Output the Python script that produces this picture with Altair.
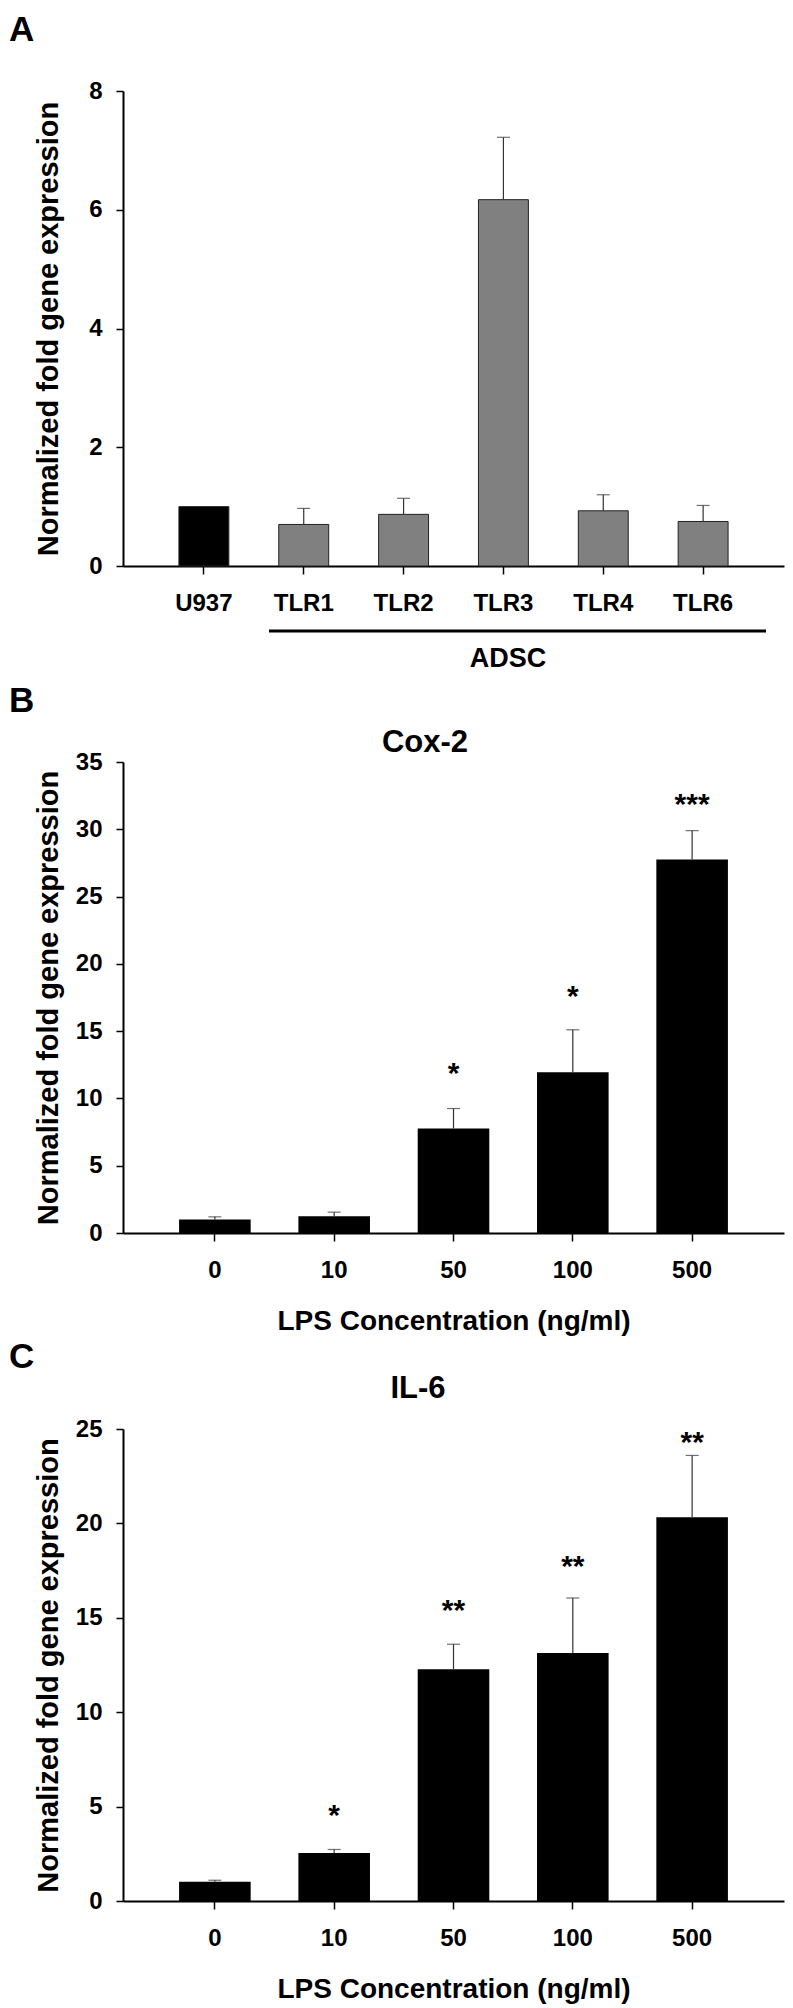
import altair as alt
import pandas as pd

FONT = "Liberation Sans"

# ---------------- data ----------------
a_cats = ["U937", "TLR1", "TLR2", "TLR3", "TLR4", "TLR6"]
a_groups = ["U937", "ADSC", "ADSC", "ADSC", "ADSC", "ADSC"]
a_vals = [1.00, 0.70, 0.87, 6.17, 0.93, 0.75]
a_err_top = [None, 0.97, 1.14, 7.22, 1.20, 1.02]

b_cats = ["0", "10", "50", "100", "500"]
b_vals = [1.00, 1.25, 7.77, 11.95, 27.75]
b_err_top = [1.20, 1.55, 9.25, 15.10, 29.90]
b_stars = ["", "", "*", "*", "***"]
b_star_y = [None, None, 12.4, 18.1, 32.4]

c_cats = ["0", "10", "50", "100", "500"]
c_vals = [1.02, 2.54, 12.27, 13.13, 20.33]
c_err_top = [1.10, 2.73, 13.60, 16.05, 23.60]
c_stars = ["", "*", "**", "**", "**"]
c_star_y = [None, 4.9, 15.8, 18.1, 24.7]

y_title = "Normalized fold gene expression"
x_title_lps = "LPS Concentration (ng/ml)"

W = 661
TICK_FS = 24
YTITLE_FS = 29
XTITLE_FS = 28


def y_axis(values):
    return alt.Axis(values=values, grid=False, tickSize=7, tickWidth=1.5,
                    tickColor="black", domainColor="black", domainWidth=2,
                    labelFont=FONT, labelFontSize=TICK_FS, labelFontWeight="bold",
                    labelColor="black", labelPadding=14,
                    title=y_title, titleFont=FONT, titleFontSize=YTITLE_FS,
                    titleFontWeight="bold", titleColor="black", titleX=-60)


def x_axis(title):
    kw = dict(labelAngle=0, grid=False, tickSize=8, tickWidth=1.5,
              tickColor="black", domainColor="black", domainWidth=2,
              labelFont=FONT, labelFontSize=TICK_FS, labelFontWeight="bold",
              labelColor="black", labelPadding=17)
    if title:
        kw.update(title=title, titleFont=FONT, titleFontSize=XTITLE_FS,
                  titleFontWeight="bold", titleColor="black", titleY=96,
                  titleBaseline="alphabetic")
    else:
        kw.update(title=None)
    return alt.Axis(**kw)


def label_layer(text, x, y, size, align="left"):
    return alt.Chart(pd.DataFrame({"t": [text]})).mark_text(
        font=FONT, fontSize=size, fontWeight="bold", color="black",
        align=align, baseline="alphabetic"
    ).encode(text="t:N", x=alt.value(x), y=alt.value(y))


def panel(cats, vals, errs, ymax, yticks, pin, pout, height, xtitle,
          groups=None, stars=None, star_y=None, letter="", letter_y=-50,
          title=None, title_x=0, title_y=0):
    df = pd.DataFrame({"cat": cats, "val": vals, "err": errs,
                       "grp": groups if groups else ["all"] * len(cats)})
    xs = alt.Scale(paddingInner=pin, paddingOuter=pout)
    ys = alt.Scale(domain=[0, ymax], nice=False)
    X = lambda: alt.X("cat:N", sort=cats, scale=xs, axis=x_axis(xtitle))
    Y = lambda f: alt.Y(f, scale=ys, axis=y_axis(yticks))

    if groups:
        color = alt.Color("grp:N", scale=alt.Scale(domain=["U937", "ADSC"],
                                                   range=["#000000", "#808080"]),
                          legend=None)
        bars = alt.Chart(df).mark_bar(stroke="#222222", strokeWidth=1).encode(
            x=X(), y=Y("val:Q"), color=color)
    else:
        bars = alt.Chart(df).mark_bar(color="black").encode(x=X(), y=Y("val:Q"))

    edf = df[df["err"].notna()]
    rule = alt.Chart(edf).mark_rule(color="#333333", strokeWidth=1.2).encode(
        x=X(), y=Y("val:Q"), y2="err:Q")
    cap = alt.Chart(edf).mark_tick(color="#333333", thickness=1.2, size=13).encode(
        x=X(), y=Y("err:Q"))
    layers = [bars, rule, cap]

    if stars:
        sdf = pd.DataFrame({"cat": cats, "s": stars, "sy": star_y})
        sdf = sdf[sdf["s"] != ""]
        st = alt.Chart(sdf).mark_text(font=FONT, fontSize=30, fontWeight="bold",
                                      color="black", baseline="middle", dy=8).encode(
            x=X(), y=Y("sy:Q"), text="s:N")
        layers.append(st)

    layers.append(label_layer(letter, -114, letter_y, 35))
    if title:
        layers.append(label_layer(title, title_x, title_y, 31, align="center"))
    return alt.layer(*layers).properties(width=W, height=height)


A = panel(a_cats, a_vals, a_err_top, 8, [0, 2, 4, 6, 8], 0.5, 0.56, 475, None,
          groups=a_groups, letter="A", letter_y=-50)
adsc_line = alt.Chart(pd.DataFrame({"k": [1]})).mark_rule(
    color="black", strokeWidth=3).encode(
    x=alt.value(146), x2=alt.value(643), y=alt.value(540))
adsc_text = label_layer("ADSC", 385, 576, 27, align="center")
A = alt.layer(A, adsc_line, adsc_text)

B = panel(b_cats, b_vals, b_err_top, 35, [0, 5, 10, 15, 20, 25, 30, 35], 0.4, 0.47,
          471, x_title_lps, stars=b_stars, star_y=b_star_y, letter="B",
          letter_y=-50, title="Cox-2", title_x=302, title_y=-10)
C = panel(c_cats, c_vals, c_err_top, 25, [0, 5, 10, 15, 20, 25], 0.4, 0.47,
          472, x_title_lps, stars=c_stars, star_y=c_star_y, letter="C",
          letter_y=-61, title="IL-6", title_x=295, title_y=-31)

chart = alt.vconcat(A, B, C, spacing=196, bounds="flush").resolve_scale(
    x="independent", y="independent", color="independent"
).properties(padding={"left": 0, "top": 4, "right": 0, "bottom": 0}
).configure_view(stroke="transparent")

chart.save("out.html", embed_options={"renderer": "svg", "actions": False})
